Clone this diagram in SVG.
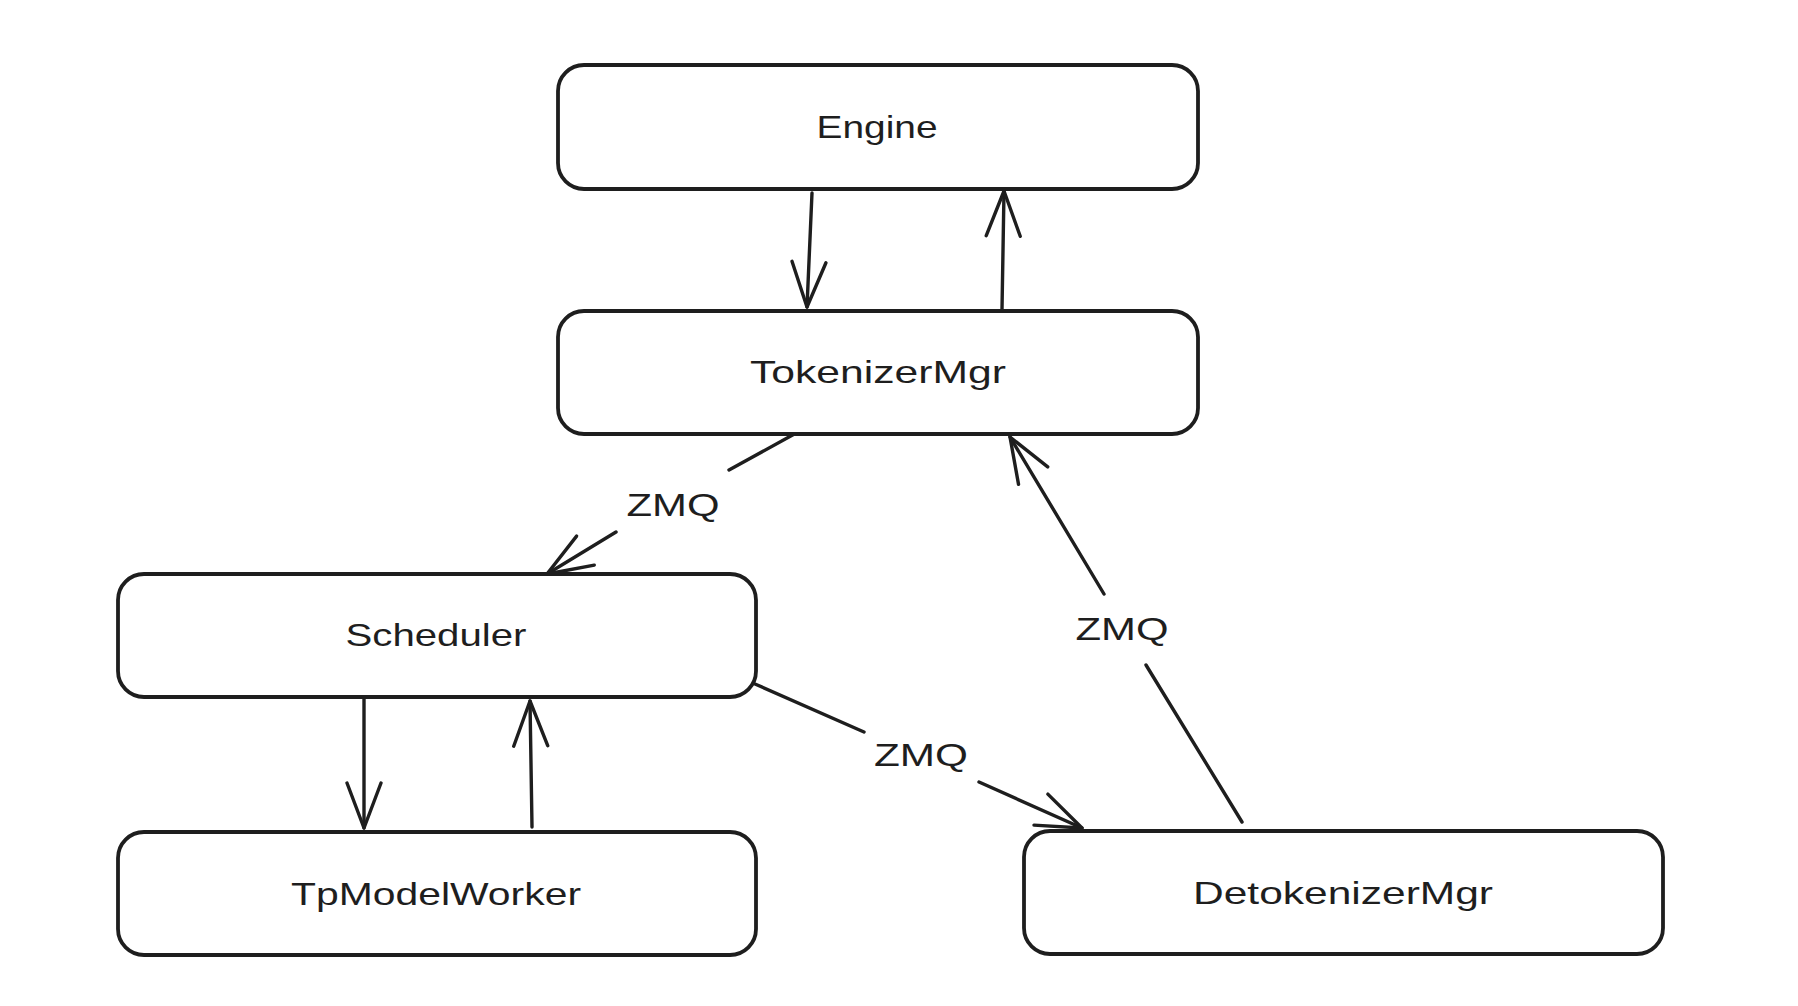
<svg xmlns="http://www.w3.org/2000/svg" width="1798" height="1006" viewBox="0 0 1798 1006">
<style>
.box{fill:#fff;stroke:#1e1e1e;stroke-width:3.8}
.lbl{font-family:"Liberation Sans",Arial,sans-serif;font-size:32px;fill:#1e1e1e;text-anchor:middle}
.edge{fill:none;stroke:#1e1e1e;stroke-width:3.4;stroke-linecap:round;marker-end:url(#ah)}
</style>
<defs>
<marker id="ah" viewBox="0 0 50 40" refX="48" refY="20" markerWidth="50" markerHeight="40" markerUnits="userSpaceOnUse" orient="auto">
<path d="M3 3 L48 20 L3 37" fill="none" stroke="#1e1e1e" stroke-width="3.4" stroke-linecap="round" stroke-linejoin="round"/>
</marker>
</defs>
<rect width="1798" height="1006" fill="#fff"/>
<g id="connectors">
<path class="edge" d="M812 193 L807 307"/>
<path class="edge" d="M1002 310 L1004 191"/>
<path class="edge" d="M798 432 L729 470 M616 532 L547 574"/>
<path class="edge" d="M364 697 L364 828"/>
<path class="edge" d="M532 827 L530 701"/>
<path class="edge" d="M755 684 L864 732 M979 782 L1082 828"/>
<path class="edge" d="M1242 822 L1146 665 M1104 594 L1010 437"/>
<text class="lbl" x="673" y="516" textLength="93" lengthAdjust="spacingAndGlyphs">ZMQ</text>
<text class="lbl" x="921" y="766" textLength="94" lengthAdjust="spacingAndGlyphs">ZMQ</text>
<text class="lbl" x="1122" y="640" textLength="93" lengthAdjust="spacingAndGlyphs">ZMQ</text>
</g>
<g id="engine">
<rect class="box" x="558" y="65" width="640" height="124" rx="26"/>
<text class="lbl" x="877" y="138" textLength="121" lengthAdjust="spacingAndGlyphs">Engine</text>
</g>
<g id="tokenizermgr">
<rect class="box" x="558" y="311" width="640" height="123" rx="26"/>
<text class="lbl" x="878" y="383" textLength="256" lengthAdjust="spacingAndGlyphs">TokenizerMgr</text>
</g>
<g id="scheduler">
<rect class="box" x="118" y="574" width="638" height="123" rx="26"/>
<text class="lbl" x="436" y="646" textLength="181" lengthAdjust="spacingAndGlyphs">Scheduler</text>
</g>
<g id="tpmodelworker">
<rect class="box" x="118" y="832" width="638" height="123" rx="26"/>
<text class="lbl" x="436" y="905" textLength="290" lengthAdjust="spacingAndGlyphs">TpModelWorker</text>
</g>
<g id="detokenizermgr">
<rect class="box" x="1024" y="831" width="639" height="123" rx="26"/>
<text class="lbl" x="1343" y="904" textLength="300" lengthAdjust="spacingAndGlyphs">DetokenizerMgr</text>
</g>
</svg>
